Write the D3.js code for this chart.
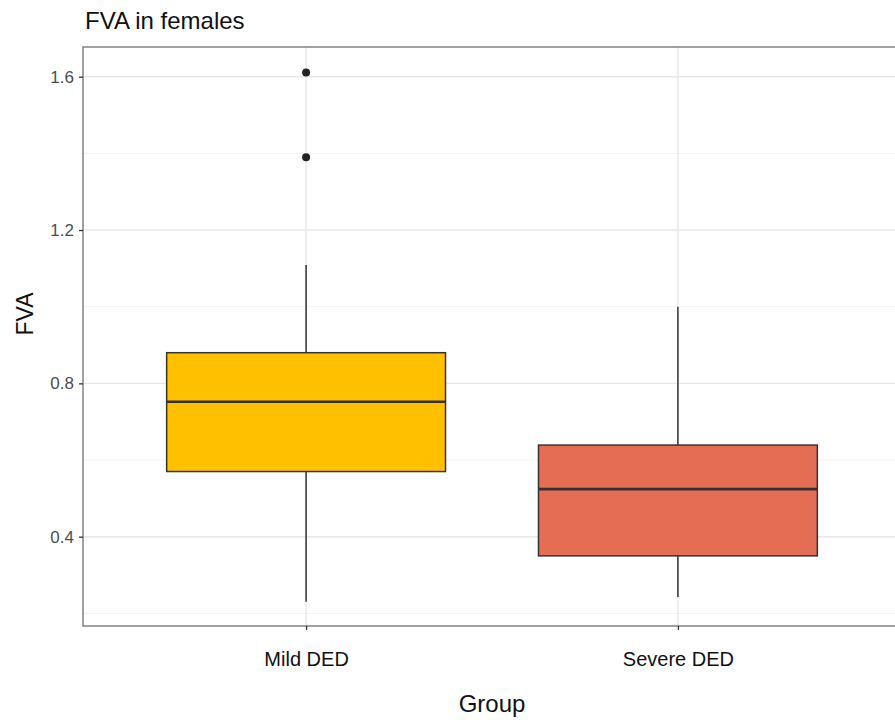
<!DOCTYPE html>
<html>
<head>
<meta charset="utf-8">
<script src="https://cdn.jsdelivr.net/npm/d3@7"></script>
<style>
  html, body { margin: 0; padding: 0; background: #fff; }
  svg { display: block; }
  text { font-family: "Liberation Sans", Arial, Helvetica, sans-serif; }
</style>
</head>
<body>
<svg id="chart" width="895" height="720"></svg>
<script>
// ---- data ----
const groups = ["Mild DED", "Severe DED"];
const whiskerLow = [0.23, 0.243];
const q1 = [0.570, 0.350];
const medians = [0.752, 0.524];
const q3 = [0.880, 0.639];
const whiskerHigh = [1.109, 1.0];
const outliers = [[1.611, 1.390], []];
const fills = ["#FFC000", "#E56D54"];
const yMajorTicks = [0.4, 0.8, 1.2, 1.6];
const yMinorTicks = [0.2, 0.6, 1.0, 1.4];

// ---- layout ----
const panel = { left: 83, top: 47, right: 901, bottom: 626 };
const svg = d3.select("#chart");

const x = d3.scalePoint().domain(groups).range([panel.left, panel.right]).padding(0.6);
const y = d3.scaleLinear().domain([0.4, 1.6]).range([536.7, 76.7]);
const boxW = x.step() * 0.75;

svg.append("defs").append("clipPath").attr("id", "pclip")
  .append("rect").attr("x", panel.left).attr("y", panel.top)
  .attr("width", panel.right - panel.left).attr("height", panel.bottom - panel.top);

const g = svg.append("g").attr("clip-path", "url(#pclip)");

// grid
g.selectAll(".minor").data(yMinorTicks).enter().append("line")
  .attr("x1", panel.left).attr("x2", panel.right)
  .attr("y1", d => y(d)).attr("y2", d => y(d))
  .attr("stroke", "#f2f2f2").attr("stroke-width", 1);
g.selectAll(".major").data(yMajorTicks).enter().append("line")
  .attr("x1", panel.left).attr("x2", panel.right)
  .attr("y1", d => y(d)).attr("y2", d => y(d))
  .attr("stroke", "#e8e8e8").attr("stroke-width", 1.4);
g.selectAll(".vmajor").data(groups).enter().append("line")
  .attr("x1", d => x(d)).attr("x2", d => x(d))
  .attr("y1", panel.top).attr("y2", panel.bottom)
  .attr("stroke", "#e8e8e8").attr("stroke-width", 1.4);

// boxes
groups.forEach((grp, i) => {
  const cx = x(grp);
  const lineCol = "#333333";
  g.append("line").attr("x1", cx).attr("x2", cx)
    .attr("y1", y(q3[i])).attr("y2", y(whiskerHigh[i]))
    .attr("stroke", lineCol).attr("stroke-width", 1.5);
  g.append("line").attr("x1", cx).attr("x2", cx)
    .attr("y1", y(q1[i])).attr("y2", y(whiskerLow[i]))
    .attr("stroke", lineCol).attr("stroke-width", 1.5);
  g.append("rect")
    .attr("x", cx - boxW / 2).attr("width", boxW)
    .attr("y", y(q3[i])).attr("height", y(q1[i]) - y(q3[i]))
    .attr("fill", fills[i]).attr("stroke", lineCol).attr("stroke-width", 1.5);
  g.append("line").attr("x1", cx - boxW / 2).attr("x2", cx + boxW / 2)
    .attr("y1", y(medians[i])).attr("y2", y(medians[i]))
    .attr("stroke", lineCol).attr("stroke-width", 2.6);
  g.selectAll(".out" + i).data(outliers[i]).enter().append("circle")
    .attr("cx", cx).attr("cy", d => y(d)).attr("r", 4)
    .attr("fill", "#222");
});

// panel border
svg.append("rect").attr("x", panel.left).attr("y", panel.top)
  .attr("width", panel.right - panel.left).attr("height", panel.bottom - panel.top)
  .attr("fill", "none").attr("stroke", "#7a7a7a").attr("stroke-width", 1.4);

// y axis
const yAxis = svg.append("g").attr("transform", `translate(${panel.left},0)`)
  .call(d3.axisLeft(y).tickValues(yMajorTicks).tickSize(4).tickPadding(5).tickFormat(d3.format(".1f")));
yAxis.select(".domain").remove();
yAxis.selectAll("line").attr("stroke", "#333").attr("stroke-width", 1.3);
yAxis.selectAll("text").attr("fill", "#4d4d4d").style("font-size", "17px");

// x axis
const xAxis = svg.append("g").attr("transform", `translate(0,${panel.bottom})`)
  .call(d3.axisBottom(x).tickSize(4).tickPadding(22));
xAxis.select(".domain").remove();
xAxis.selectAll("line").attr("stroke", "#333").attr("stroke-width", 1.3);
xAxis.selectAll("text").attr("fill", "#111").style("font-size", "20px");

// titles
svg.append("text").attr("x", 85).attr("y", 28.5)
  .style("font-size", "24px").attr("fill", "#111").text("FVA in females");
svg.append("text").attr("transform", "translate(33,314) rotate(-90)")
  .attr("text-anchor", "middle").style("font-size", "23px").attr("fill", "#111").text("FVA");
svg.append("text").attr("x", 492).attr("y", 712)
  .attr("text-anchor", "middle").style("font-size", "24px").attr("fill", "#111").text("Group");
</script>
</body>
</html>
